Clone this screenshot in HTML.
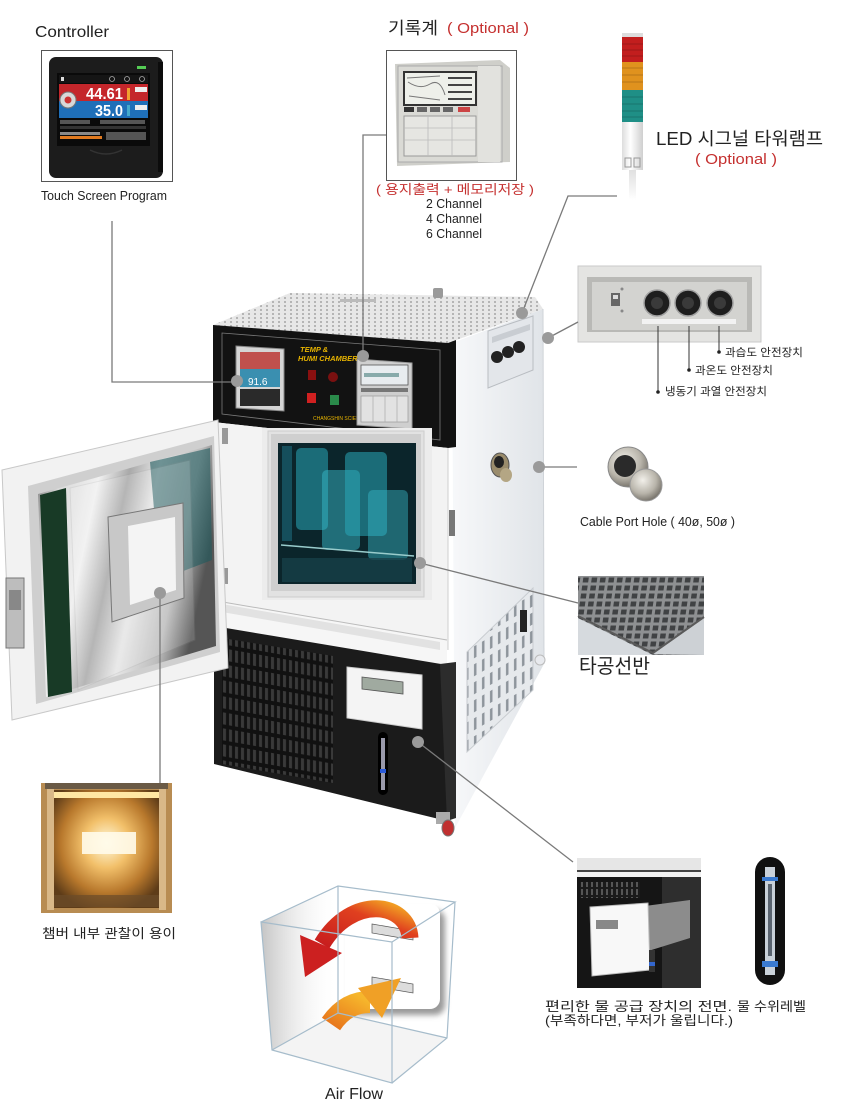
<!DOCTYPE html>
<html><head><meta charset="utf-8">
<style>
html,body{margin:0;padding:0;background:#fff;}
svg{display:block;}
text{font-family:"Liberation Sans","Noto Sans CJK KR",sans-serif;}
</style></head><body>
<svg width="860" height="1106" viewBox="0 0 860 1106" xmlns="http://www.w3.org/2000/svg">
<defs>
 <pattern id="perf" width="6" height="4" patternUnits="userSpaceOnUse"><rect width="6" height="4" fill="#e2e2e2"/><circle cx="3" cy="2" r="1" fill="#8f8f8f"/></pattern>
 <pattern id="slots" width="6" height="16" patternUnits="userSpaceOnUse" patternTransform="skewY(10)"><rect width="6" height="16" fill="#111"/><rect x="1" y="1" width="3" height="12" fill="#3a3a3a"/></pattern>
 <pattern id="louv" width="8" height="18" patternUnits="userSpaceOnUse" patternTransform="skewY(-30)"><rect width="8" height="18" fill="#e6e9ec"/><rect x="2" y="2" width="2.5" height="12" fill="#8e959c"/></pattern>
 <pattern id="holes" width="8.5" height="8" patternUnits="userSpaceOnUse" patternTransform="skewX(-8)"><rect width="8.5" height="8" fill="#8e9092"/><rect x="1.5" y="1.5" width="5.5" height="5" fill="#404244"/></pattern>
 <pattern id="wslots" width="5" height="8" patternUnits="userSpaceOnUse"><rect width="5" height="8" fill="#1a1a1a"/><rect x="1" y="1" width="2" height="6" fill="#555"/></pattern>
 <linearGradient id="sideG" x1="0" y1="0" x2="1" y2="0"><stop offset="0" stop-color="#f7f8fa"/><stop offset="1" stop-color="#e0e4e8"/></linearGradient>
 <linearGradient id="steelG" x1="0" y1="0" x2="1" y2="0.3"><stop offset="0" stop-color="#6d6d6d"/><stop offset=".15" stop-color="#d9d9d9"/><stop offset=".35" stop-color="#f0f0f0"/><stop offset=".5" stop-color="#a9a9a9"/><stop offset=".65" stop-color="#e6e6e6"/><stop offset=".85" stop-color="#bdbdbd"/><stop offset="1" stop-color="#555"/></linearGradient>
 <radialGradient id="amber" cx=".5" cy=".45" r=".6"><stop offset="0" stop-color="#fffbe0"/><stop offset=".35" stop-color="#f2c06a"/><stop offset=".7" stop-color="#b8782c"/><stop offset="1" stop-color="#5e3c18"/></radialGradient>
 <radialGradient id="silver" cx=".4" cy=".35" r=".7"><stop offset="0" stop-color="#f2f0ea"/><stop offset=".6" stop-color="#b8b4aa"/><stop offset="1" stop-color="#6e6a62"/></radialGradient>
 <linearGradient id="cubeShade" x1="0" y1="0" x2="1" y2="0"><stop offset="0" stop-color="#c4c4c4"/><stop offset="1" stop-color="#ffffff" stop-opacity="0"/></linearGradient>
 <linearGradient id="redA" x1="1" y1="0" x2="0" y2="1"><stop offset="0" stop-color="#f3a623"/><stop offset=".35" stop-color="#e0401f"/><stop offset="1" stop-color="#c81e1e"/></linearGradient>
 <linearGradient id="orA" x1="0" y1="1" x2="1" y2="0"><stop offset="0" stop-color="#e8781c"/><stop offset="1" stop-color="#f6b62c"/></linearGradient>
 <linearGradient id="ledW" x1="0" y1="0" x2="1" y2="0"><stop offset="0" stop-color="#ddd"/><stop offset=".4" stop-color="#fff"/><stop offset="1" stop-color="#cfcfcf"/></linearGradient>
 <linearGradient id="stem" x1="0" y1="0" x2="0" y2="1"><stop offset="0" stop-color="#e0e0e0"/><stop offset="1" stop-color="#fff"/></linearGradient>
 <filter id="blur"><feGaussianBlur stdDeviation="3"/></filter>
</defs>

<!-- ===== Controller ===== -->
<text x="35" y="37" font-size="16" fill="#222" textLength="74" lengthAdjust="spacingAndGlyphs">Controller</text>
<rect x="41.5" y="50.5" width="131" height="131" fill="#fff" stroke="#555" stroke-width="1"/>
<rect x="49" y="57" width="114" height="121" rx="7" fill="#1c1c1c"/>
<rect x="158" y="62" width="5" height="110" fill="#0c0c0c"/>
<rect x="57" y="73" width="93" height="73" fill="#0a0a0a"/>
<rect x="59" y="75" width="89" height="8" fill="#151515"/>
<rect x="61" y="77" width="3" height="4" fill="#ddd"/>
<circle cx="112" cy="79" r="2.5" fill="none" stroke="#aaa" stroke-width=".8"/>
<circle cx="127" cy="79" r="2.5" fill="none" stroke="#aaa" stroke-width=".8"/>
<circle cx="142" cy="79" r="2.5" fill="none" stroke="#aaa" stroke-width=".8"/>
<rect x="59" y="84" width="89" height="17" fill="#c4262b"/>
<rect x="59" y="101" width="89" height="17" fill="#1f6fb8"/>
<circle cx="68" cy="100" r="8" fill="#d8d8d8" stroke="#777" stroke-width="1"/>
<circle cx="68" cy="100" r="3.5" fill="#c33"/>
<text x="86" y="99" font-size="16" font-weight="bold" fill="#fff" textLength="37" lengthAdjust="spacingAndGlyphs">44.61</text>
<text x="95" y="116" font-size="16" font-weight="bold" fill="#fff" textLength="28" lengthAdjust="spacingAndGlyphs">35.0</text>
<rect x="127" y="88" width="3" height="12" fill="#f0a030"/>
<rect x="127" y="105" width="3" height="11" fill="#4ac"/>
<rect x="135" y="87" width="12" height="5" fill="#eee"/>
<rect x="135" y="105" width="12" height="5" fill="#eee"/>
<rect x="60" y="120" width="30" height="4" fill="#555"/><rect x="100" y="120" width="45" height="4" fill="#555"/>
<rect x="60" y="126" width="86" height="3" fill="#333"/>
<rect x="60" y="132" width="40" height="3" fill="#888"/>
<rect x="60" y="136" width="42" height="3" fill="#e07a20"/>
<rect x="106" y="132" width="40" height="8" fill="#555"/>
<path d="M90 150 Q106 158 122 150" fill="none" stroke="#333" stroke-width="1.5"/>
<rect x="137" y="66" width="9" height="3" fill="#55cc55"/>
<text x="41" y="200" font-size="12.5" fill="#222" textLength="126" lengthAdjust="spacingAndGlyphs">Touch Screen Program</text>

<!-- ===== Recorder ===== -->
<text x="388" y="34" font-size="17" fill="#222" textLength="50" lengthAdjust="spacingAndGlyphs">기록계</text>
<text x="447" y="33" font-size="15" fill="#c5302f" textLength="82" lengthAdjust="spacingAndGlyphs">( Optional )</text>
<rect x="386.5" y="50.5" width="130" height="130" fill="#fff" stroke="#555" stroke-width="1"/>
<polygon points="395,64 500,60 510,68 510,162 397,166" fill="#cfcfca"/>
<rect x="398" y="66" width="104" height="96" fill="#dadad5" stroke="#aaa" stroke-width="1"/>
<rect x="404" y="72" width="72" height="33" fill="#eef0ea" stroke="#333" stroke-width="2"/>
<path d="M407 78 L440 76 M408 82 Q420 90 430 84 T445 95 M409 96 L440 100" stroke="#777" stroke-width="1" fill="none"/>
<rect x="448" y="77" width="24" height="2" fill="#444"/><rect x="448" y="84" width="24" height="2" fill="#444"/><rect x="448" y="91" width="24" height="2" fill="#444"/><rect x="448" y="98" width="24" height="2" fill="#444"/>
<rect x="404" y="107" width="10" height="5" fill="#333"/><rect x="417" y="107" width="10" height="5" fill="#666"/><rect x="430" y="107" width="10" height="5" fill="#666"/><rect x="443" y="107" width="10" height="5" fill="#666"/><rect x="458" y="107" width="12" height="5" fill="#c44"/>
<rect x="404" y="116" width="72" height="40" fill="#e6e6e2" stroke="#999" stroke-width="1"/>
<path d="M404 128 H476 M404 140 H476 M428 116 V156 M452 116 V156" stroke="#bbb" stroke-width=".8"/>
<rect x="478" y="66" width="22" height="96" fill="#e2e2de"/>
<text x="376" y="194" font-size="13" fill="#c5302f" textLength="158" lengthAdjust="spacingAndGlyphs">( 용지출력 + 메모리저장 )</text>
<text x="426" y="208" font-size="12.5" fill="#222" textLength="56" lengthAdjust="spacingAndGlyphs">2 Channel</text>
<text x="426" y="223" font-size="12.5" fill="#222" textLength="56" lengthAdjust="spacingAndGlyphs">4 Channel</text>
<text x="426" y="238" font-size="12.5" fill="#222" textLength="56" lengthAdjust="spacingAndGlyphs">6 Channel</text>

<!-- ===== LED tower ===== -->
<rect x="622" y="33" width="21" height="4" fill="#ddd"/>
<rect x="622" y="37" width="21" height="25" fill="#c21e1e"/>
<rect x="622" y="62" width="21" height="28" fill="#e0921e"/>
<rect x="622" y="90" width="21" height="32" fill="#1f8f86"/>
<path d="M622 44 H643 M622 50 H643 M622 56 H643 M622 68 H643 M622 75 H643 M622 82 H643 M622 97 H643 M622 104 H643 M622 111 H643 M622 117 H643" stroke="#000" stroke-opacity=".18" stroke-width="1"/>
<rect x="622" y="122" width="21" height="48" fill="url(#ledW)"/>
<rect x="625" y="158" width="6" height="9" fill="none" stroke="#999" stroke-width="1"/>
<rect x="634" y="158" width="6" height="9" fill="none" stroke="#999" stroke-width="1"/>
<rect x="629" y="170" width="7" height="30" fill="url(#stem)"/>
<text x="656" y="145" font-size="18" fill="#222" textLength="167" lengthAdjust="spacingAndGlyphs">LED 시그널 타워램프</text>
<text x="695" y="164" font-size="15" fill="#c5302f" textLength="82" lengthAdjust="spacingAndGlyphs">( Optional )</text>

<!-- ===== Safety panel ===== -->
<rect x="578" y="266" width="183" height="76" fill="#e4e4e2" stroke="#cacaca"/>
<rect x="587" y="277" width="165" height="55" fill="#b9b9b6"/>
<rect x="592" y="282" width="155" height="48" fill="#d3d3d0"/>
<rect x="611" y="293" width="9" height="13" fill="#666"/><rect x="613" y="295" width="5" height="4" fill="#ddd"/>
<circle cx="622" cy="289" r="1.5" fill="#888"/><circle cx="622" cy="311" r="1.5" fill="#888"/>
<circle cx="657" cy="303" r="13" fill="#1e1e1e" stroke="#a0a0a0" stroke-width="1.5"/><circle cx="657" cy="303" r="6" fill="#3a3a3a"/>
<circle cx="688" cy="303" r="13" fill="#1e1e1e" stroke="#a0a0a0" stroke-width="1.5"/><circle cx="688" cy="303" r="6" fill="#3a3a3a"/>
<circle cx="720" cy="303" r="13" fill="#1e1e1e" stroke="#a0a0a0" stroke-width="1.5"/><circle cx="720" cy="303" r="6" fill="#3a3a3a"/>
<rect x="642" y="319" width="94" height="5" fill="#f2f2f2"/>
<path d="M658 326 V392 M689 326 V370 M719 326 V352" stroke="#333" stroke-width="1"/>
<circle cx="658" cy="392" r="1.8" fill="#222"/><circle cx="689" cy="370" r="1.8" fill="#222"/><circle cx="719" cy="352" r="1.8" fill="#222"/>
<text x="725" y="356" font-size="11" fill="#222" textLength="78" lengthAdjust="spacingAndGlyphs">과습도 안전장치</text>
<text x="695" y="374" font-size="11" fill="#222" textLength="78" lengthAdjust="spacingAndGlyphs">과온도 안전장치</text>
<text x="665" y="395" font-size="11" fill="#222" textLength="102" lengthAdjust="spacingAndGlyphs">냉동기 과열 안전장치</text>

<!-- ===== Cable port ===== -->
<circle cx="628" cy="467" r="20" fill="url(#silver)" stroke="#888"/>
<circle cx="625" cy="466" r="11" fill="#2a2a2a"/>
<circle cx="646" cy="485" r="16" fill="url(#silver)" stroke="#999"/>
<text x="580" y="526" font-size="12.5" fill="#222" textLength="155" lengthAdjust="spacingAndGlyphs">Cable Port Hole ( 40ø, 50ø )</text>

<!-- ===== Shelf ===== -->
<rect x="578" y="576" width="126" height="79" fill="url(#holes)"/>
<polygon points="578,618 653,655 578,655" fill="#d6dade"/>
<polygon points="653,654 704,618 704,655" fill="#cdd1d5"/>
<path d="M578 616 L653 653 L704 617" fill="none" stroke="#5a5a5a" stroke-width="2"/>
<text x="579" y="673" font-size="20" fill="#222" textLength="71" lengthAdjust="spacingAndGlyphs">타공선반</text>

<!-- ===== Water supply ===== -->
<rect x="577" y="858" width="124" height="130" fill="#151515"/>
<rect x="577" y="858" width="124" height="12" fill="#e6e6e6"/>
<rect x="577" y="870" width="124" height="2" fill="#444"/>
<rect x="577" y="872" width="124" height="5" fill="#f2f2f2"/>
<rect x="580" y="882" width="60" height="16" fill="url(#wslots)"/>
<rect x="662" y="877" width="39" height="111" fill="#2e2e2e"/>
<polygon points="645,906 690,900 690,938 645,952" fill="#8c8c8c"/>
<polygon points="590,907 648,903 650,970 592,976" fill="#f8f8f8" stroke="#bbb"/>
<rect x="596" y="920" width="22" height="9" fill="#888"/>
<rect x="649" y="950" width="6" height="22" fill="#333"/><rect x="649" y="962" width="6" height="4" fill="#36c"/>
<rect x="755" y="857" width="30" height="128" rx="15" fill="#101010"/>
<rect x="765" y="867" width="10" height="108" fill="#c9d1d9"/>
<rect x="768" y="884" width="4" height="72" fill="#5a6470"/>
<rect x="762" y="877" width="16" height="4" fill="#3a7ad0"/>
<rect x="762" y="961" width="16" height="6" fill="#3a7ad0"/>
<text x="545" y="1011" font-size="13" fill="#222" textLength="187" lengthAdjust="spacingAndGlyphs">편리한 물 공급 장치의 전면.</text>
<text x="545" y="1025" font-size="13" fill="#222" textLength="188" lengthAdjust="spacingAndGlyphs">(부족하다면, 부저가 울립니다.)</text>
<text x="737" y="1011" font-size="13" fill="#222" textLength="69" lengthAdjust="spacingAndGlyphs">물 수위레벨</text>

<!-- ===== Chamber interior photo ===== -->
<rect x="41" y="783" width="131" height="130" fill="#b88c52"/>
<rect x="52" y="790" width="109" height="118" fill="url(#amber)"/>
<rect x="45" y="783" width="123" height="6" fill="#6a5a46"/>
<rect x="47" y="789" width="7" height="121" fill="#d9b888"/>
<rect x="159" y="789" width="7" height="121" fill="#d9b888"/>
<rect x="54" y="792" width="105" height="6" fill="#ffe7a4"/>
<rect x="82" y="832" width="54" height="22" fill="#fffbea" opacity=".9"/>
<rect x="54" y="895" width="105" height="12" fill="#6b4c2a" opacity=".7"/>
<text x="42" y="938" font-size="13" fill="#222" textLength="134" lengthAdjust="spacingAndGlyphs">챔버 내부 관찰이 용이</text>

<!-- ===== Air flow cube ===== -->
<polygon points="261,922 338,886 338,1013 272,1050" fill="url(#cubeShade)"/>
<polygon points="272,1050 338,1013 447,1038 392,1083" fill="#ececec" opacity=".6"/>
<rect x="350" y="910" width="95" height="105" rx="10" fill="#999" filter="url(#blur)"/>
<rect x="345" y="904" width="95" height="105" rx="10" fill="#fff"/>
<polygon points="372,924 413,931 413,940 372,933" fill="#dcdcdc" stroke="#555" stroke-width=".7"/>
<polygon points="372,977 413,984 413,993 372,986" fill="#dcdcdc" stroke="#555" stroke-width=".7"/>
<path d="M410 938 C408 902 352 894 322 944" fill="none" stroke="url(#redA)" stroke-width="17"/>
<polygon points="300,935 342,953 305,977" fill="#cc2020"/>
<path d="M331 1024 C342 1008 355 1002 370 1002" fill="none" stroke="url(#orA)" stroke-width="22"/>
<polygon points="358,988 382,1018 401,978" fill="#f0a026"/>
<g fill="none" stroke="#a6bccb" stroke-width="1.2">
 <polygon points="261,922 392,942 392,1083 272,1050"/>
 <path d="M261 922 L338 886 L455 902 L392 942 M455 902 L447 1038 L392 1083 M338 886 L338 1013 L272 1050 M338 1013 L447 1038"/>
</g>
<text x="325" y="1099" font-size="16" fill="#222" textLength="58" lengthAdjust="spacingAndGlyphs">Air Flow</text>

<!-- ===== Main chamber ===== -->
<polygon points="452,343 543,309 544,664 455,828" fill="url(#sideG)"/>
<line x1="543" y1="309" x2="544" y2="664" stroke="#cfd3d8"/>
<polygon points="488,331 533,316 533,370 488,388" fill="#e3e6ea" stroke="#b9bdc2"/>
<polygon points="492,337 530,324 530,330 492,343" fill="#c9cdd2"/>
<circle cx="497" cy="357" r="6" fill="#222"/><circle cx="508" cy="352" r="6" fill="#222"/><circle cx="519" cy="347" r="6" fill="#222"/>
<ellipse cx="500" cy="465" rx="9" ry="12" fill="#9a8c6c" stroke="#555"/>
<ellipse cx="499" cy="462" rx="5" ry="6" fill="#222"/>
<ellipse cx="506" cy="475" rx="6" ry="7" fill="#b4a684"/>
<rect x="449" y="510" width="6" height="26" fill="#777"/>
<polygon points="467,652 533,588 533,690 467,752" fill="url(#louv)" stroke="#c8ccd0"/>
<rect x="520" y="610" width="7" height="22" fill="#222"/>
<circle cx="540" cy="660" r="5" fill="#e8eaee" stroke="#bbb"/>
<polygon points="213,325 448,343 543,309 535,297 290,293" fill="url(#perf)"/>
<polygon points="213,325 448,343 543,309 535,297 290,293" fill="#fff" opacity=".2"/>
<rect x="340" y="299" width="36" height="3" fill="#bbb"/>
<rect x="433" y="288" width="10" height="10" rx="2" fill="#9a9a9a"/>
<polygon points="213,325 448,343 456,340 456,447 448,448 213,422" fill="#121212"/>
<polygon points="222,333 440,350 440,440 222,414" fill="none" stroke="#7a7a7a" stroke-width=".8"/>
<polygon points="236,346 284,349 284,411 236,408" fill="#d5d5d5" stroke="#888"/>
<rect x="240" y="352" width="40" height="17" fill="#c0504d"/>
<rect x="240" y="369" width="40" height="18" fill="#3a8fb0"/>
<text x="248" y="385" font-size="10" fill="#fff">91.6</text>
<rect x="240" y="389" width="40" height="17" fill="#2a2a2a"/>
<text x="300" y="352" font-size="7.5" font-weight="bold" font-style="italic" fill="#e8b400">TEMP &amp;</text>
<text x="298" y="361" font-size="7.5" font-weight="bold" font-style="italic" fill="#e8b400">HUMI CHAMBER</text>
<rect x="308" y="370" width="8" height="10" fill="#8a1010"/>
<circle cx="333" cy="377" r="5" fill="#7a1010"/>
<rect x="307" y="393" width="9" height="10" fill="#d02020"/>
<rect x="330" y="395" width="9" height="10" fill="#2a8a4a"/>
<text x="313" y="420" font-size="5" fill="#e8b400">CHANGSHIN SCIENCE</text>
<polygon points="357,359 412,363 412,429 357,425" fill="#cfcfcf" stroke="#999"/>
<rect x="361" y="365" width="47" height="20" fill="#e8ecef" stroke="#555" stroke-width=".8"/>
<rect x="364" y="373" width="35" height="4" fill="#8aa"/>
<rect x="361" y="388" width="47" height="4" fill="#777"/>
<rect x="361" y="396" width="47" height="26" fill="#e2e2e2" stroke="#999" stroke-width=".7"/>
<path d="M373 396 V422 M385 396 V422 M397 396 V422" stroke="#aaa" stroke-width=".7"/>
<polygon points="213,422 448,448 448,650 213,605" fill="#f3f3f3"/>
<line x1="448" y1="448" x2="448" y2="650" stroke="#cfcfcf"/>
<rect x="262" y="428" width="170" height="172" fill="#ececec"/>
<rect x="268" y="431" width="156" height="166" fill="#e2e2e2" stroke="#ccc"/>
<rect x="271" y="434" width="150" height="157" fill="#cfcfcf"/>
<rect x="278" y="443" width="138" height="141" fill="#0b252b"/>
<rect x="296" y="448" width="32" height="82" rx="5" fill="#2aa8b8" opacity=".55"/>
<rect x="322" y="470" width="38" height="80" rx="5" fill="#38b8c8" opacity=".5"/>
<rect x="345" y="452" width="42" height="84" rx="5" fill="#2aa8b8" opacity=".55"/>
<rect x="368" y="490" width="40" height="70" rx="5" fill="#38b8c8" opacity=".45"/>
<rect x="282" y="446" width="10" height="95" fill="#1a6070" opacity=".7"/>
<line x1="281" y1="545" x2="414" y2="556" stroke="#9cc" stroke-width="1.5"/>
<rect x="282" y="558" width="130" height="24" fill="#164048" opacity=".8"/>
<polygon points="211,600 447,640 447,667 211,627" fill="#f6f6f6"/>
<polygon points="222,604 440,642 440,650 222,612" fill="#e2e2e2"/>
<line x1="211" y1="600" x2="447" y2="640" stroke="#bbb"/>
<polygon points="214,626 447,665 447,821 214,764" fill="#1b1b1b"/>
<polygon points="222,638 333,656 333,783 222,764" fill="url(#slots)"/>
<polygon points="440,664 456,662 456,818 447,821" fill="#2c2c2c"/>
<polygon points="347,667 422,675 422,729 347,718" fill="#f4f4f4" stroke="#ccc"/>
<polygon points="362,677 403,682 403,694 362,689" fill="#a0aaa0" stroke="#555" stroke-width=".8"/>
<rect x="378" y="732" width="10" height="63" rx="5" fill="#000"/>
<rect x="381" y="738" width="4" height="52" fill="#99a"/>
<rect x="380" y="769" width="6" height="4" fill="#2a5ad8"/>
<rect x="436" y="812" width="14" height="12" fill="#aaa"/>
<ellipse cx="448" cy="828" rx="6" ry="8" fill="#c03030" stroke="#777"/>
<rect x="222" y="428" width="6" height="16" fill="#999"/>
<rect x="222" y="568" width="6" height="16" fill="#999"/>
<polygon points="2,470 218,420 228,668 12,720" fill="#f2f2f2" stroke="#c8c8c8"/>
<polygon points="28,486 214,436 220,652 36,704" fill="#cfcfcf"/>
<polygon points="38,494 212,445 216,646 46,697" fill="url(#steelG)"/>
<polygon points="40,495 66,488 72,692 48,697" fill="#183a26"/>
<polygon points="150,462 210,448 212,560 160,580" fill="#1e5a5e" opacity=".6"/>
<polygon points="70,488 190,460 195,640 78,690" fill="#fff" opacity=".15" stroke="#999"/>
<polygon points="108,517 183,503 184,598 112,622" fill="#c8c8c8" stroke="#777"/>
<polygon points="128,526 175,517 176,590 130,605" fill="#f4f4f4"/>
<rect x="6" y="578" width="18" height="70" fill="#bdbdbd" stroke="#777"/>
<rect x="9" y="590" width="12" height="20" fill="#888"/>

<!-- ===== Connectors ===== -->
<g fill="none" stroke="#7a7a7a" stroke-width="1.3">
 <path d="M112 221 V382 H237"/>
 <path d="M386 135 H363 V356"/>
 <path d="M617 196 H568 L522 313"/>
 <path d="M578 322 L548 338"/>
 <path d="M577 467 H539"/>
 <path d="M578 603 L420 563"/>
 <path d="M573 862 L418 742"/>
 <path d="M160 593 V783"/>
</g>
<g fill="#9a9a9a">
 <circle cx="237" cy="381" r="6"/>
 <circle cx="363" cy="356" r="6"/>
 <circle cx="522" cy="313" r="6"/>
 <circle cx="548" cy="338" r="6"/>
 <circle cx="539" cy="467" r="6"/>
 <circle cx="420" cy="563" r="6"/>
 <circle cx="418" cy="742" r="6"/>
 <circle cx="160" cy="593" r="6"/>
</g>
</svg>
</body></html>
